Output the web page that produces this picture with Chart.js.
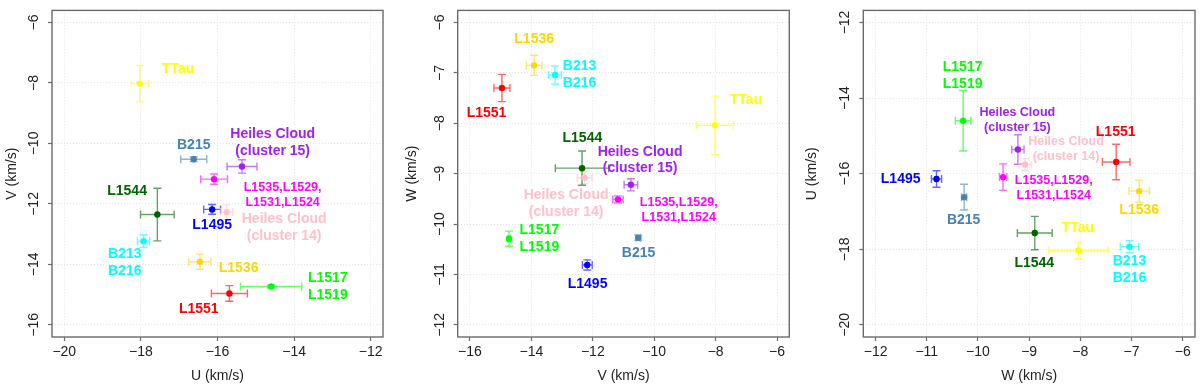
<!DOCTYPE html>
<html><head><meta charset="utf-8">
<script src="https://cdn.jsdelivr.net/npm/chart.js@4.4.1/dist/chart.umd.min.js"></script>
<style>
html,body{margin:0;padding:0;background:#fff;width:1200px;height:387px;overflow:hidden}
.p{position:absolute;top:0;width:400px;height:387px}
canvas{display:block}
</style></head><body>
<div class="p" style="left:0px"><canvas id="c1" width="400" height="387"></canvas></div>
<div class="p" style="left:400px"><canvas id="c2" width="400" height="387"></canvas></div>
<div class="p" style="left:800px"><canvas id="c3" width="400" height="387"></canvas></div>
<script>
// ---- data ----
const clusters = ['TTau','B215','Heiles Cloud (cluster 15)','L1535,L1529,L1531,L1524','L1495','Heiles Cloud (cluster 14)','L1544','B213/B216','L1536','L1517/L1519','L1551'];
const U  = [-18.03,-16.62,-15.36,-16.09,-16.14,-15.76,-17.57,-17.93,-16.46,-14.60,-15.69];
const V  = [-8.02,-10.52,-10.76,-11.18,-12.18,-12.27,-12.35,-13.23,-13.91,-14.73,-14.96];
const W  = [-8.04,-10.27,-9.22,-9.51,-10.81,-9.08,-8.89,-7.04,-6.85,-10.29,-7.30];
const eU = [0.22,0.34,0.39,0.35,0.22,0.16,0.44,0.16,0.29,0.80,0.47];
const eV = [0.60,0.08,0.22,0.17,0.16,0.24,0.87,0.21,0.25,0.05,0.26];
const eW = [0.58,0.05,0.12,0.07,0.10,0.12,0.34,0.18,0.20,0.15,0.27];
const labelLines = [['TTau'],['B215'],['Heiles Cloud','(cluster 15)'],['L1535,L1529,','L1531,L1524'],['L1495'],['Heiles Cloud','(cluster 14)'],['L1544'],['B213','B216'],['L1536'],['L1517','L1519'],['L1551']];
const ticksU = [-20,-18,-16,-14,-12];
const ticksV = [-16,-14,-12,-10,-8,-6];
const ticksW = [-12,-11,-10,-9,-8,-7,-6];
const ticksWy = [-12,-11,-10,-9,-8,-7,-6];
const ticksUy = [-20,-18,-16,-14,-12];
const ticksVy = [-16,-14,-12,-10,-8,-6];

// ---- annotation placement (data coordinates of label block centres) ----
const labelPosUV = [[-17.03,-7.54],[-16.62,-10.04],[-14.56,-9.98],[-14.30,-11.71],[-16.14,-12.70],[-14.26,-12.79],[-18.36,-11.57],[-18.42,-13.95],[-15.45,-14.13],[-13.12,-14.74],[-16.49,-15.47]];
const labelPosVW = [[-7.01,-7.55],[-10.51,-10.57],[-10.46,-8.73],[-9.20,-9.72],[-12.17,-11.20],[-12.87,-9.59],[-12.34,-8.29],[-12.43,-7.04],[-13.91,-6.34],[-13.74,-10.29],[-15.46,-7.80]];
const labelPosWU = [[-8.05,-17.45],[-10.28,-17.22],[-9.23,-14.57],[-8.52,-16.39],[-11.51,-16.15],[-8.28,-15.36],[-8.90,-18.37],[-7.04,-18.53],[-6.85,-16.96],[-10.30,-13.40],[-7.31,-14.90]];

// ---- styles ----
const colors = ['#FFFF00','#4682B4','#A020F0','#FF00FF','#0000FF','#FFC0CB','#006400','#00FFFF','#FFD700','#00FF00','#FF0000'];
const sizeStd = [14,14,14,12.5,14,14,14,14,14,14,14];
const sizeWU  = [14,14,12.5,12.5,14,12.5,14,14,14,14,14];
const FONT = "'Liberation Sans', Arial, Helvetica, sans-serif";
Chart.defaults.font.family = FONT;

function hexA(hex, a){
  const n = parseInt(hex.slice(1),16);
  return `rgba(${(n>>16)&255},${(n>>8)&255},${n&255},${a})`;
}
const fmt = v => (v<0?'\u2212':'') + Math.abs(v);

const boxPlugin = {
  id:'box',
  afterDraw(chart){
    const a = chart.chartArea, c = chart.ctx;
    c.save(); c.strokeStyle = '#6b6b6b'; c.lineWidth = 1.4;
    c.strokeRect(a.left, a.top, a.right-a.left, a.bottom-a.top);
    c.restore();
  }
};
const errPlugin = {
  id:'err',
  beforeDatasetsDraw(chart){
    const c = chart.ctx, xs = chart.scales.x, ys = chart.scales.y;
    const cap = 4;
    chart.data.datasets.forEach(ds=>{
      const p = ds.data[0];
      const px = xs.getPixelForValue(p.x), py = ys.getPixelForValue(p.y);
      const x1 = xs.getPixelForValue(p.x - ds.xErr), x2 = xs.getPixelForValue(p.x + ds.xErr);
      const y1 = ys.getPixelForValue(p.y - ds.yErr), y2 = ys.getPixelForValue(p.y + ds.yErr);
      c.save(); c.strokeStyle = hexA(ds.baseColor, 0.6); c.lineWidth = 1.4;
      c.beginPath();
      c.moveTo(x1,py); c.lineTo(x2,py);
      c.moveTo(x1,py-cap); c.lineTo(x1,py+cap);
      c.moveTo(x2,py-cap); c.lineTo(x2,py+cap);
      c.moveTo(px,y1); c.lineTo(px,y2);
      c.moveTo(px-cap,y1); c.lineTo(px+cap,y1);
      c.moveTo(px-cap,y2); c.lineTo(px+cap,y2);
      c.stroke(); c.restore();
    });
  }
};
const labelPlugin = {
  id:'lbl',
  afterDatasetsDraw(chart, args, opts){
    const c = chart.ctx, xs = chart.scales.x, ys = chart.scales.y;
    c.save(); c.textAlign = 'center'; c.textBaseline = 'middle';
    opts.pos.forEach((p,i)=>{
      const fs = opts.sizes[i], lh = fs*1.2, lines = labelLines[i];
      const cx = xs.getPixelForValue(p[0]), cy = ys.getPixelForValue(p[1]);
      c.font = `bold ${fs}px ${FONT}`; c.fillStyle = colors[i];
      lines.forEach((t,k)=> c.fillText(t, cx, cy + (k-(lines.length-1)/2)*lh));
    });
    c.restore();
  }
};

function makeChart(id, xv, yv, ex, ey, xr, yr, xt, yt, xTitle, yTitle, pos, sizes, leftW, rightPad){
  const datasets = clusters.map((name,i)=>({
    label: name,
    data: [{x: xv[i], y: yv[i]}],
    xErr: ex[i], yErr: ey[i], baseColor: colors[i],
    backgroundColor: colors[i], borderColor: colors[i],
    pointRadius: 3.2, pointBorderWidth: 0
  }));
  const tickFont = {size:14};
  return new Chart(document.getElementById(id), {
    type:'scatter',
    data:{datasets},
    plugins:[errPlugin, labelPlugin, boxPlugin],
    options:{
      responsive:false, animation:false, devicePixelRatio:1,
      layout:{padding:{top:6, right:rightPad, left:0, bottom:0}},
      plugins:{legend:{display:false}, tooltip:{enabled:false}, lbl:{pos, sizes}},
      scales:{
        x:{type:'linear', min:xr[0], max:xr[1],
           afterBuildTicks: s => { s.ticks = xt.map(v=>({value:v})); },
           afterFit: s => { s.height = 50; },
           ticks:{callback: fmt, font:tickFont, color:'#222', padding:3, maxRotation:0, autoSkip:false},
           grid:{color:'#e4e4e4', lineWidth:1, tickLength:4, tickColor:'#6b6b6b', tickWidth:1.2, tickBorderDash:[]},
           border:{display:false, dash:[1,2]},
           title:{display:true, text:xTitle, font:{size:14}, color:'#222', padding:{top:0,bottom:2.5}}
        },
        y:{type:'linear', min:yr[0], max:yr[1],
           afterBuildTicks: s => { s.ticks = yt.map(v=>({value:v})); },
           afterFit: s => { s.width = leftW; },
           ticks:{callback: fmt, font:tickFont, color:'#222', padding:2, minRotation:90, maxRotation:90, crossAlign:'center', autoSkip:false},
           grid:{color:'#e4e4e4', lineWidth:1, tickLength:4, tickColor:'#6b6b6b', tickWidth:1.2, tickBorderDash:[]},
           border:{display:false, dash:[1,2]},
           title:{display:true, text:yTitle, font:{size:14}, color:'#222', padding:{top:3.3,bottom:0}}
        }
      }
    }
  });
}

makeChart('c1', U, V, eU, eV, [-20.32,-11.68], [-16.4,-5.6], ticksU, ticksVy, 'U (km/s)', 'V (km/s)', labelPosUV, sizeStd, 52, 17);
makeChart('c2', V, W, eV, eW, [-16.4,-5.6], [-12.24,-5.76], ticksV, ticksWy, 'V (km/s)', 'W (km/s)', labelPosVW, sizeStd, 57.7, 10.7);
makeChart('c3', W, U, eW, eU, [-12.24,-5.76], [-20.32,-11.68], ticksW, ticksUy, 'W (km/s)', 'U (km/s)', labelPosWU, sizeWU, 63.3, 5);
</script>
</body></html>
